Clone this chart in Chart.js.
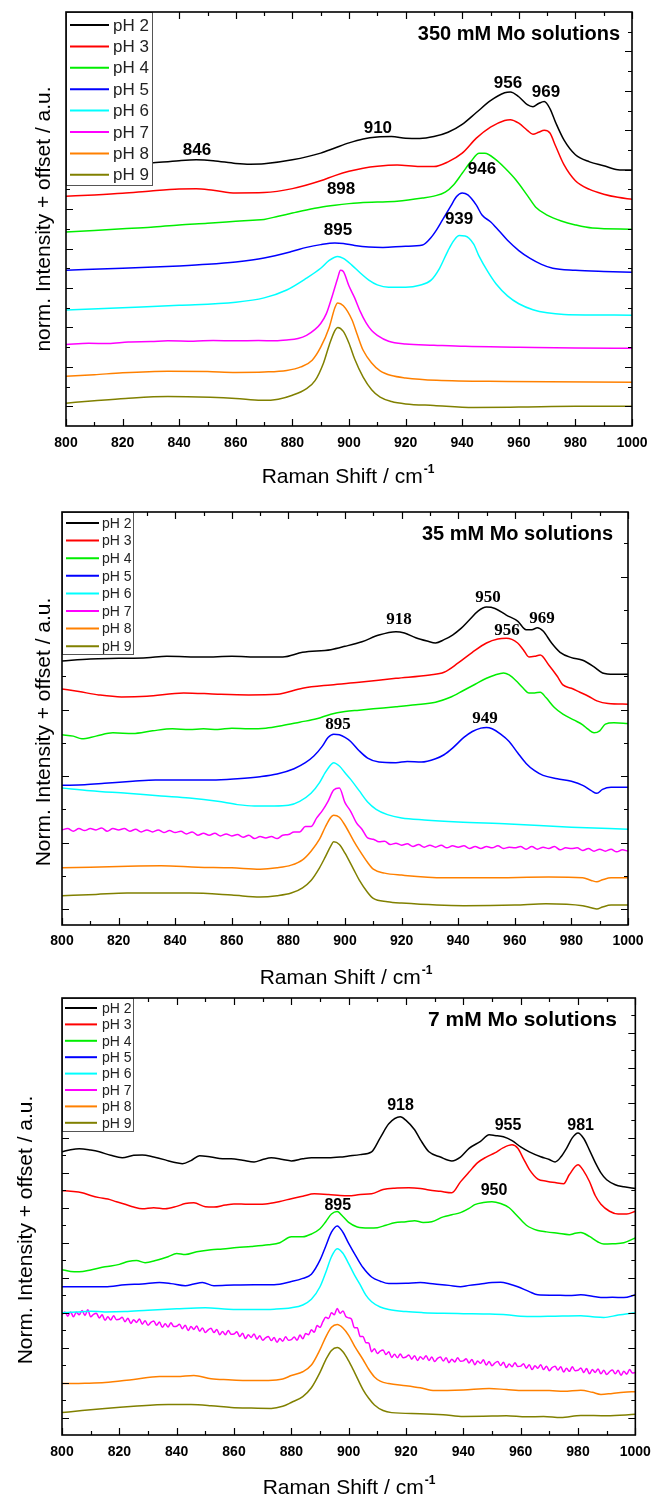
<!DOCTYPE html>
<html><head><meta charset="utf-8">
<script src="https://cdn.jsdelivr.net/npm/chart.js"></script>
<style>
html,body{margin:0;padding:0;background:#fff;}
body{width:660px;height:1496px;position:relative;overflow:hidden;}
canvas{position:absolute;left:0;}
</style></head><body>
<canvas id="c1" width="660" height="496" style="top:0px"></canvas>
<canvas id="c2" width="660" height="494" style="top:496px"></canvas>
<canvas id="c3" width="660" height="506" style="top:990px"></canvas>
<script>
// ---------- shared labels / ticks ----------
const phLabels = ['pH 2','pH 3','pH 4','pH 5','pH 6','pH 7','pH 8','pH 9'];
const xTickVals = [800,820,840,860,880,900,920,940,960,980,1000];
const xTitle = 'Raman Shift / cm';
const xTitleSup = '-1';

// ---------- Panel A : 350 mM ----------
const A_title = '350 mM Mo solutions';
const A_yTitle = 'norm. Intensity + offset / a.u.';
const A_yTicks = [0,1,2,3,4,5,6,7,8,9];
const A_pH2_x = [800,810,820,830,840,846,852,860,865,870,880,890,895,900,905,910,915,920,925,930,935,940,945,950,955,957,960,963,965,967,969,971,973,976,980,985,990,995,1000];
const A_pH2_y = [6.05,6.08,6.12,6.17,6.23,6.25,6.23,6.16,6.14,6.15,6.25,6.42,6.55,6.68,6.78,6.83,6.84,6.80,6.79,6.84,6.95,7.15,7.45,7.75,7.95,7.97,7.85,7.65,7.60,7.68,7.73,7.55,7.20,6.75,6.38,6.20,6.10,6.00,5.99];
const A_pH3_x = [800,810,820,830,840,846,852,860,870,880,890,895,900,905,910,917,925,930,935,940,945,950,955,957,960,963,965,967,969,971,973,976,980,985,990,995,1000];
const A_pH3_y = [5.33,5.36,5.40,5.46,5.51,5.52,5.48,5.41,5.42,5.52,5.72,5.85,5.96,6.04,6.09,6.12,6.08,6.08,6.20,6.42,6.80,7.08,7.25,7.27,7.18,7.00,6.90,6.95,7.00,6.93,6.60,6.12,5.72,5.50,5.38,5.30,5.25];
const A_pH4_x = [800,810,820,830,840,850,860,866,870,875,880,885,890,895,900,905,910,917,926,930,934,937,940,943,946,948,952,955,959,963,966,970,975,980,986,1000];
const A_pH4_y = [4.42,4.46,4.50,4.54,4.60,4.64,4.69,4.72,4.74,4.82,4.90,4.98,5.05,5.10,5.14,5.17,5.18,5.20,5.28,5.33,5.43,5.62,5.91,6.20,6.42,6.42,6.25,6.05,5.74,5.35,5.05,4.85,4.70,4.60,4.52,4.49];
const A_pH5_x = [800,820,840,850,860,870,880,885,890,895,898,902,907,912,920,926,929,931,933,936,938,940,942,945,947,950,953,956,960,964,968,972,980,990,1000];
const A_pH5_y = [3.45,3.50,3.56,3.60,3.66,3.76,3.93,4.03,4.10,4.14,4.13,4.08,4.04,4.03,4.06,4.09,4.28,4.48,4.72,5.08,5.32,5.41,5.36,5.10,4.85,4.68,4.45,4.21,3.95,3.75,3.60,3.50,3.45,3.42,3.40];
const A_pH6_x = [800,820,840,860,870,878,885,890,893,896,898,901,904,907,910,914,920,925,929,932,935,937,939,941,944,946,949,952,956,960,965,970,976,1000];
const A_pH6_y = [2.44,2.50,2.56,2.64,2.75,2.95,3.25,3.50,3.70,3.80,3.75,3.58,3.38,3.20,3.08,3.02,3.02,3.07,3.20,3.50,3.95,4.20,4.33,4.32,4.12,3.80,3.42,3.10,2.80,2.60,2.45,2.37,2.33,2.31];
const A_pH7_x = [800,808,815,822,830,836,845,852,860,868,874,878,882,885,888,890,892,894,896,897,898,900,902,904,906,908,910,914,920,930,941,960,980,1000];
const A_pH7_y = [1.57,1.60,1.59,1.63,1.64,1.66,1.65,1.67,1.66,1.67,1.66,1.68,1.72,1.80,1.95,2.10,2.35,2.78,3.25,3.45,3.42,3.05,2.75,2.40,2.12,1.92,1.80,1.65,1.58,1.55,1.52,1.50,1.48,1.47];
const A_pH8_x = [800,810,820,836,850,860,870,878,883,887,890,893,895,896,898,901,903,905,908,911,915,920,931,956,1000];
const A_pH8_y = [0.76,0.80,0.85,0.89,0.88,0.86,0.87,0.91,1.00,1.17,1.50,2.00,2.50,2.62,2.55,2.20,1.80,1.42,1.10,0.90,0.78,0.72,0.66,0.63,0.61];
const A_pH9_x = [800,810,821,836,851,860,869,875,880,885,888,891,893,895,896,898,900,902,905,908,911,915,920,930,944,960,980,1000];
const A_pH9_y = [0.08,0.14,0.20,0.25,0.23,0.20,0.15,0.18,0.28,0.45,0.65,1.10,1.55,1.92,2.00,1.90,1.60,1.20,0.74,0.42,0.23,0.12,0.06,0.02,-0.03,-0.02,0.00,0.00];
const A_peakText = ['846','910','956','969','898','946','895','939'];
const A_peakX = [846.3,910.2,956.2,969.6,897.2,947.0,896.1,938.9];
const A_peakY = [6.50,7.06,8.20,7.97,5.51,6.02,4.47,4.75];

// ---------- Panel B : 35 mM ----------
const B_title = '35 mM Mo solutions';
const B_yTitle = 'Norm. Intensity + offset / a.u.';
const B_yTicks = [0,1,2,3,4,5];
const B_pH2_x = [800,810,820,830,837,850,860,870,878,885,895,900,906,912,918,921,925,929,932,935,938,941,944,947,950,953,957,961,964,966,968,970,973,976,980,984,988,991,995,1000];
const B_pH2_y = [3.73,3.76,3.77,3.78,3.80,3.79,3.80,3.79,3.79,3.86,3.90,3.95,4.02,4.12,4.17,4.15,4.08,4.03,4.00,4.05,4.12,4.22,4.35,4.48,4.54,4.52,4.42,4.33,4.20,4.20,4.23,4.18,4.00,3.86,3.78,3.74,3.64,3.55,3.53,3.53];
const B_pH3_x = [800,806,813,821,830,843,855,866,876,885,895,905,918,930,935,940,945,950,954,957,961,963,965,967,969,972,975,977,980,983,986,989,993,1000];
const B_pH3_y = [3.31,3.27,3.22,3.19,3.20,3.25,3.23,3.22,3.23,3.32,3.37,3.41,3.47,3.52,3.56,3.70,3.86,4.00,4.06,4.07,4.00,3.90,3.79,3.80,3.82,3.67,3.50,3.37,3.32,3.26,3.20,3.13,3.09,3.08];
const B_pH4_x = [800,804,807,812,818,825,832,839,845,850,855,860,866,872,878,884,890,895,900,905,910,918,925,932,937,942,946,950,953,956,958,961,963,965,967,969,971,974,977,981,984,986,988,990,992,995,1000];
const B_pH4_y = [2.62,2.60,2.56,2.60,2.65,2.64,2.68,2.71,2.70,2.71,2.70,2.72,2.71,2.72,2.76,2.81,2.86,2.93,2.97,2.99,3.01,3.04,3.07,3.11,3.18,3.29,3.38,3.47,3.52,3.55,3.52,3.41,3.32,3.25,3.25,3.26,3.18,3.03,2.93,2.84,2.77,2.70,2.65,2.68,2.78,2.80,2.79];
const B_pH5_x = [800,808,815,825,833,845,853,862,870,876,882,886,889,892,894,896,898,900,902,905,908,912,918,922,927,932,935,938,942,945,948,950,952,955,958,961,964,967,970,975,980,984,987,989,991,994,1000];
const B_pH5_y = [1.86,1.87,1.89,1.92,1.94,1.94,1.94,1.96,1.99,2.03,2.11,2.20,2.30,2.45,2.58,2.63,2.62,2.58,2.52,2.38,2.27,2.21,2.20,2.22,2.21,2.26,2.32,2.42,2.58,2.67,2.72,2.73,2.71,2.63,2.52,2.35,2.19,2.08,2.01,1.96,1.92,1.86,1.78,1.74,1.80,1.83,1.83];
const B_pH6_x = [800,810,823,835,845,855,862,868,875,880,884,888,891,893,895,896,898,900,902,905,908,911,915,920,928,940,958,980,1000];
const B_pH6_y = [1.82,1.78,1.74,1.70,1.67,1.62,1.57,1.55,1.55,1.56,1.62,1.74,1.90,2.05,2.17,2.20,2.15,2.05,1.95,1.78,1.61,1.50,1.42,1.37,1.34,1.31,1.28,1.23,1.20];
// pH 7 (noisy) sampled every 2 cm-1 from 800 to 1000
const B_pH7_start = 800, B_pH7_step = 2;
const B_pH7_y = [1.19,1.21,1.17,1.21,1.18,1.21,1.19,1.22,1.17,1.21,
 1.19,1.21,1.17,1.20,1.16,1.19,1.16,1.19,1.15,1.18,
 1.15,1.17,1.13,1.16,1.11,1.14,1.11,1.14,1.10,1.13,
 1.10,1.12,1.08,1.11,1.06,1.09,1.07,1.09,1.06,1.11,
 1.12,1.16,1.16,1.24,1.24,1.37,1.48,1.62,1.79,1.82,
 1.60,1.47,1.30,1.20,1.07,1.05,1.01,1.02,0.97,0.99,
 0.96,0.98,0.94,0.97,0.93,0.96,0.93,0.96,0.92,0.95,
 0.93,0.95,0.91,0.94,0.91,0.94,0.92,0.95,0.91,0.93,
 0.92,0.94,0.90,0.94,0.90,0.93,0.91,0.94,0.89,0.92,
 0.91,0.92,0.88,0.91,0.87,0.90,0.87,0.90,0.86,0.89,
 0.87];
const B_pH8_x = [800,810,820,835,848,860,870,876,881,885,888,891,893,895,896,898,900,903,905,908,910,914,920,935,950,972,984,987,989,991,994,1000];
const B_pH8_y = [0.62,0.63,0.64,0.65,0.63,0.62,0.60,0.62,0.66,0.74,0.87,1.05,1.23,1.38,1.41,1.38,1.26,1.03,0.89,0.70,0.60,0.54,0.51,0.47,0.47,0.48,0.47,0.43,0.41,0.44,0.47,0.47];
const B_pH9_x = [800,812,823,845,860,870,876,881,885,888,891,893,895,896,898,900,903,905,908,910,915,920,942,960,971,984,987,989,991,994,1000];
const B_pH9_y = [0.20,0.22,0.24,0.24,0.21,0.18,0.20,0.24,0.32,0.43,0.62,0.78,0.95,1.01,0.97,0.84,0.60,0.44,0.25,0.16,0.11,0.09,0.05,0.06,0.08,0.05,0.02,0.00,0.03,0.06,0.06];
const B_peakText = ['918','950','969','956','949','895'];
const B_peakX = [919.1,950.5,969.6,957.2,949.5,897.5];
const B_peakY = [4.35,4.69,4.36,4.18,2.86,2.77];

// ---------- Panel C : 7 mM ----------
const C_title = '7 mM Mo solutions';
const C_yTitle = 'Norm. Intensity + offset / a.u.';
const C_yTicks = [0,1,2,3,4,5,6,7,8,9,10,11];
const C_pH2_x = [800,803,806,810,813,817,821,825,828,832,836,839,842,845,848,852,856,859,863,867,870,873,877,880,884,887,890,893,897,900,904,908,911,914,918,920,923,925,928,932,936,939,942,946,949,951,954,957,960,963,967,970,972,974,976,978,980,982,984,986,988,990,993,996,1000];
const C_pH2_y = [7.60,7.66,7.69,7.65,7.60,7.50,7.43,7.50,7.51,7.45,7.37,7.30,7.26,7.35,7.49,7.45,7.40,7.40,7.36,7.31,7.38,7.43,7.38,7.34,7.40,7.43,7.43,7.43,7.45,7.48,7.52,7.60,8.00,8.40,8.60,8.50,8.23,7.95,7.60,7.45,7.34,7.45,7.70,7.90,8.09,8.07,8.03,7.92,7.74,7.60,7.46,7.38,7.31,7.45,7.70,8.00,8.14,7.98,7.65,7.30,7.00,6.80,6.66,6.60,6.55];
const C_pH3_x = [800,803,807,810,813,816,819,822,825,828,832,836,840,843,846,850,853,857,860,865,871,876,880,884,888,893,897,900,904,908,912,916,921,925,928,932,936,939,942,945,948,951,954,957,959,961,963,966,969,972,975,977,980,982,984,986,988,991,994,997,1000];
const C_pH3_y = [6.49,6.47,6.43,6.35,6.29,6.25,6.17,6.10,6.02,5.97,6.00,5.97,6.04,6.12,6.14,6.03,6.02,6.08,6.11,6.10,6.11,6.18,6.26,6.33,6.40,6.38,6.35,6.34,6.38,6.40,6.52,6.56,6.57,6.55,6.51,6.47,6.43,6.74,7.02,7.29,7.45,7.57,7.72,7.80,7.70,7.40,7.10,6.82,6.76,6.72,6.69,6.95,7.23,7.05,6.75,6.35,6.10,5.90,5.82,5.82,5.90];
const C_pH4_x = [800,803,806,810,815,820,823,826,829,833,837,840,843,847,852,856,861,866,872,876,880,884,887,890,892,894,896,898,900,903,907,910,913,916,920,923,926,929,933,936,939,942,944,947,950,953,956,959,962,966,969,973,977,979,981,984,987,989,992,996,1000];
const C_pH4_y = [4.23,4.18,4.17,4.22,4.31,4.38,4.46,4.49,4.43,4.50,4.60,4.69,4.66,4.74,4.80,4.82,4.86,4.89,4.94,5.00,5.17,5.17,5.25,5.40,5.60,5.82,5.89,5.75,5.58,5.45,5.42,5.43,5.50,5.57,5.60,5.63,5.58,5.60,5.74,5.80,5.86,5.98,6.09,6.15,6.17,6.12,6.00,5.75,5.50,5.35,5.31,5.27,5.23,5.27,5.29,5.18,5.02,4.96,4.97,5.00,5.14];
const C_pH5_x = [800,808,815,822,828,834,838,843,846,849,853,860,867,874,880,884,887,890,892,894,896,898,900,903,905,908,911,914,920,925,930,935,939,942,946,950,953,956,959,963,966,971,977,981,985,988,992,996,1000];
const C_pH5_y = [3.74,3.74,3.74,3.80,3.82,3.86,3.83,3.77,3.82,3.86,3.77,3.79,3.80,3.80,3.89,3.98,4.10,4.50,4.90,5.30,5.48,5.30,4.98,4.55,4.29,4.02,3.90,3.83,3.84,3.86,3.82,3.78,3.74,3.78,3.82,3.86,3.87,3.82,3.74,3.60,3.51,3.50,3.49,3.51,3.47,3.43,3.44,3.43,3.51];
const C_pH6_x = [800,805,810,815,822,830,840,850,858,867,874,880,884,887,890,892,894,896,898,900,902,904,906,908,911,914,920,926,933,940,948,955,960,965,972,981,985,989,994,1000];
const C_pH6_y = [3.00,3.02,3.04,3.02,3.03,3.07,3.11,3.14,3.10,3.09,3.10,3.14,3.22,3.38,3.74,4.15,4.60,4.83,4.70,4.40,4.08,3.80,3.50,3.31,3.16,3.09,3.03,3.00,2.98,2.97,2.96,2.94,2.90,2.89,2.90,2.91,2.88,2.86,2.93,3.00];
// pH 7 (noisy) sampled every 1 cm-1 from 800 to 1000
const C_pH7_start = 800, C_pH7_step = 1;
const C_pH7_y = [2.94,3.02,2.90,3.02,2.88,3.01,2.94,3.06,2.92,3.08,
 2.88,2.95,2.98,2.85,2.94,2.78,2.88,2.79,2.91,2.80,
 2.81,2.87,2.74,2.84,2.69,2.80,2.72,2.82,2.67,2.77,
 2.64,2.72,2.76,2.64,2.73,2.58,2.68,2.59,2.71,2.60,
 2.61,2.67,2.54,2.64,2.49,2.60,2.52,2.62,2.47,2.56,
 2.43,2.51,2.55,2.43,2.52,2.37,2.46,2.37,2.49,2.38,
 2.39,2.45,2.32,2.41,2.26,2.37,2.29,2.39,2.24,2.34,
 2.21,2.28,2.32,2.20,2.29,2.15,2.26,2.18,2.31,2.21,
 2.23,2.30,2.21,2.36,2.25,2.40,2.37,2.51,2.44,2.63,
 2.58,2.74,2.87,2.83,3.00,2.94,3.12,2.98,3.05,2.89,
 2.85,2.81,2.57,2.57,2.32,2.32,2.14,2.13,1.88,1.97,
 1.83,1.90,1.93,1.80,1.88,1.72,1.81,1.71,1.82,1.71,
 1.73,1.79,1.67,1.77,1.63,1.74,1.67,1.77,1.63,1.73,
 1.60,1.69,1.73,1.62,1.71,1.57,1.67,1.59,1.71,1.61,
 1.62,1.68,1.56,1.66,1.51,1.62,1.55,1.65,1.50,1.60,
 1.48,1.56,1.60,1.49,1.58,1.43,1.53,1.45,1.57,1.46,
 1.47,1.54,1.41,1.51,1.37,1.48,1.41,1.51,1.37,1.47,
 1.34,1.43,1.47,1.36,1.45,1.30,1.41,1.32,1.45,1.34,
 1.35,1.42,1.29,1.40,1.25,1.37,1.29,1.39,1.25,1.35,
 1.23,1.31,1.36,1.25,1.35,1.21,1.32,1.24,1.37,1.27,
 1.29];
const C_pH8_x = [800,808,815,825,834,840,846,852,858,864,872,877,880,884,887,890,892,894,896,898,900,902,905,907,909,911,914,920,925,930,940,949,955,961,970,975,981,985,988,992,996,1000];
const C_pH8_y = [0.97,0.98,1.00,1.09,1.17,1.17,1.20,1.11,1.08,1.06,1.06,1.10,1.20,1.31,1.50,1.94,2.30,2.58,2.66,2.56,2.35,2.05,1.66,1.38,1.16,1.04,0.97,0.91,0.85,0.77,0.79,0.83,0.80,0.77,0.77,0.75,0.78,0.72,0.66,0.69,0.72,0.74];
const C_pH9_x = [800,807,815,825,837,845,852,859,866,873,877,880,884,887,890,892,894,896,898,900,902,905,907,909,912,915,925,933,940,950,955,962,968,974,981,990,1000];
const C_pH9_y = [0.14,0.20,0.26,0.32,0.37,0.37,0.34,0.29,0.27,0.26,0.32,0.43,0.60,0.85,1.29,1.65,1.92,2.00,1.88,1.62,1.30,0.80,0.55,0.36,0.20,0.14,0.11,0.08,0.03,0.04,0.05,0.02,0.03,0.00,0.06,0.05,0.09];
const C_peakText = ['918','955','981','950','895'];
const C_peakX = [918.1,955.6,980.9,950.7,896.2];
const C_peakY = [8.91,8.34,8.34,6.49,6.06];

// ---------- styles ----------
const SANS = "'Liberation Sans', Arial, Helvetica, sans-serif";
const SERIF = "'Liberation Serif', 'Times New Roman', serif";
const phColors = ['#000000','#ff0000','#00ee00','#0000ff','#00ffff','#ff00ff','#ff8000','#808000'];

function regular(ys, start, step) { return ys.map((v, i) => start + i * step); }

const decoPlugin = {
  id: 'deco',
  afterDatasetsDraw(chart) {
    const o = chart.options.plugins.deco;
    const {ctx, chartArea: a, scales: {x, y}} = chart;
    ctx.save();
    // ticks (inward, all four sides)
    ctx.strokeStyle = '#000';
    ctx.lineWidth = 1.2;
    ctx.beginPath();
    const xs = [];
    o.xTicks.forEach((v, i) => { xs.push([v, true]); if (i < o.xTicks.length - 1) xs.push([(v + o.xTicks[i + 1]) / 2, false]); });
    xs.forEach(([v, maj]) => {
      const p = Math.round(x.getPixelForValue(v)) + 0.5;
      const L = maj ? 7 : 4;
      ctx.moveTo(p, a.bottom); ctx.lineTo(p, a.bottom - L);
      ctx.moveTo(p, a.top); ctx.lineTo(p, a.top + L);
    });
    const ys = [];
    o.yTicks.forEach(v => { ys.push([v, true]); ys.push([v + 0.5, false]); });
    ys.push([o.yTicks[0] - 0.5, false]);
    ys.forEach(([v, maj]) => {
      if (v <= y.min + 1e-6 || v >= y.max - 1e-6) return;
      const p = Math.round(y.getPixelForValue(v)) + 0.5;
      const L = maj ? 7 : 4;
      ctx.moveTo(a.left, p); ctx.lineTo(a.left + L, p);
      ctx.moveTo(a.right, p); ctx.lineTo(a.right - L, p);
    });
    ctx.stroke();

    // legend box
    const lg = o.legend;
    const lx = a.left, ly = a.top;
    ctx.fillStyle = '#fff';
    ctx.fillRect(lx, ly, lg.w, lg.h);
    ctx.strokeStyle = '#555';
    ctx.lineWidth = 1;
    ctx.strokeRect(lx + 0.5, ly + 0.5, lg.w, lg.h);
    chart.data.datasets.forEach((ds, i) => {
      const ry = ly + lg.row0 + i * lg.step;
      ctx.strokeStyle = ds.borderColor;
      ctx.lineWidth = 2;
      ctx.beginPath(); ctx.moveTo(lx + lg.l0, ry); ctx.lineTo(lx + lg.l1, ry); ctx.stroke();
      ctx.fillStyle = '#222';
      ctx.font = lg.font;
      ctx.textAlign = 'left';
      ctx.textBaseline = 'middle';
      ctx.fillText(ds.label, lx + lg.tx, ry + 1);
    });

    // frame
    ctx.strokeStyle = '#000';
    ctx.lineWidth = 1.6;
    ctx.strokeRect(a.left, a.top, a.right - a.left, a.bottom - a.top);

    // peak labels
    ctx.fillStyle = '#000';
    ctx.font = o.peakFont;
    ctx.textAlign = 'center';
    ctx.textBaseline = 'middle';
    o.peakText.forEach((t, i) => {
      ctx.fillText(t, x.getPixelForValue(o.peakX[i]), y.getPixelForValue(o.peakY[i]));
    });

    // inset title
    ctx.font = o.titleFont;
    ctx.textAlign = 'right';
    ctx.fillText(o.title, o.titleRight, o.titleY);

    // x axis title with superscript
    ctx.font = '21px ' + SANS;
    const w1 = ctx.measureText(xTitle).width;
    ctx.font = 'bold 12px ' + SANS;
    const w2 = ctx.measureText(xTitleSup).width;
    const x0 = o.xTitleX - (w1 + w2 + 1) / 2;
    const base = o.xTitleY + 7.4;
    ctx.textAlign = 'left';
    ctx.textBaseline = 'alphabetic';
    ctx.font = '21px ' + SANS;
    ctx.fillText(xTitle, x0, base);
    ctx.font = 'bold 12px ' + SANS;
    ctx.fillText(xTitleSup, x0 + w1 + 1, base - 10);

    // y axis title (rotated)
    ctx.save();
    ctx.translate(o.yTitleBase, o.yTitleY);
    ctx.rotate(-Math.PI / 2);
    ctx.font = '21px ' + SANS;
    ctx.textAlign = 'center';
    ctx.textBaseline = 'alphabetic';
    ctx.fillText(o.yTitle, 0, 0);
    ctx.restore();

    ctx.restore();
  }
};

function makeChart(id, p) {
  const datasets = p.series.map((s, i) => ({
    label: phLabels[i],
    data: s.x.map((xv, k) => ({x: xv, y: s.y[k]})),
    borderColor: phColors[i],
    borderWidth: 1.5,
    pointRadius: 0,
    fill: false,
    cubicInterpolationMode: 'monotone'
  }));
  return new Chart(document.getElementById(id), {
    type: 'line',
    data: {datasets},
    options: {
      responsive: false,
      animation: false,
      devicePixelRatio: 1,
      layout: {padding: {top: p.padTop, right: p.padRight, bottom: 0, left: 0}},
      plugins: {
        legend: {display: false},
        tooltip: {enabled: false},
        deco: p.deco
      },
      scales: {
        x: {
          type: 'linear', min: 800, max: 1000,
          afterFit: s => { s.height = p.xAxisH; },
          afterBuildTicks: s => { s.ticks = xTickVals.map(v => ({value: v})); },
          ticks: {
            callback: v => String(v),
            font: {family: SANS, size: 14, weight: 'bold'},
            color: '#000', padding: p.tickPad,
            maxRotation: 0, minRotation: 0, autoSkip: false
          },
          grid: {display: false, drawTicks: false},
          border: {display: false}
        },
        y: {
          type: 'linear', min: p.yMin, max: p.yMax,
          afterFit: s => { s.width = p.yAxisW; },
          ticks: {display: false},
          grid: {display: false, drawTicks: false},
          border: {display: false}
        }
      }
    },
    plugins: [decoPlugin]
  });
}

// Panel A
makeChart('c1', {
  series: [
    {x: A_pH2_x, y: A_pH2_y}, {x: A_pH3_x, y: A_pH3_y}, {x: A_pH4_x, y: A_pH4_y}, {x: A_pH5_x, y: A_pH5_y},
    {x: A_pH6_x, y: A_pH6_y}, {x: A_pH7_x, y: A_pH7_y}, {x: A_pH8_x, y: A_pH8_y}, {x: A_pH9_x, y: A_pH9_y}
  ],
  padTop: 12, padRight: 28, yAxisW: 66, xAxisH: 70, tickPad: 8.6,
  yMin: -0.5, yMax: 10,
  deco: {
    xTicks: xTickVals, yTicks: A_yTicks,
    legend: {w: 86, h: 173, row0: 13, step: 21.4, l0: 4, l1: 43, tx: 47, font: '17px ' + SANS},
    peakText: A_peakText, peakX: A_peakX, peakY: A_peakY, peakFont: 'bold 17px ' + SANS,
    title: A_title, titleFont: 'bold 20px ' + SANS, titleRight: 620, titleY: 34,
    xTitleX: 348, xTitleY: 475.5,
    yTitle: A_yTitle, yTitleBase: 50, yTitleY: 219
  }
});

// Panel B
makeChart('c2', {
  series: [
    {x: B_pH2_x, y: B_pH2_y}, {x: B_pH3_x, y: B_pH3_y}, {x: B_pH4_x, y: B_pH4_y}, {x: B_pH5_x, y: B_pH5_y},
    {x: B_pH6_x, y: B_pH6_y}, {x: regular(B_pH7_y, B_pH7_start, B_pH7_step), y: B_pH7_y},
    {x: B_pH8_x, y: B_pH8_y}, {x: B_pH9_x, y: B_pH9_y}
  ],
  padTop: 16, padRight: 32, yAxisW: 62, xAxisH: 65, tickPad: 8.1,
  yMin: -0.24, yMax: 5.97,
  deco: {
    xTicks: xTickVals, yTicks: B_yTicks,
    legend: {w: 71, h: 142, row0: 11, step: 17.6, l0: 4, l1: 37, tx: 40, font: '14px ' + SANS},
    peakText: B_peakText, peakX: B_peakX, peakY: B_peakY, peakFont: 'bold 17px ' + SERIF,
    title: B_title, titleFont: 'bold 20px ' + SANS, titleRight: 613, titleY: 38,
    xTitleX: 346, xTitleY: 481,
    yTitle: B_yTitle, yTitleBase: 50, yTitleY: 236
  }
});

// Panel C
makeChart('c3', {
  series: [
    {x: C_pH2_x, y: C_pH2_y}, {x: C_pH3_x, y: C_pH3_y}, {x: C_pH4_x, y: C_pH4_y}, {x: C_pH5_x, y: C_pH5_y},
    {x: C_pH6_x, y: C_pH6_y}, {x: regular(C_pH7_y, C_pH7_start, C_pH7_step), y: C_pH7_y},
    {x: C_pH8_x, y: C_pH8_y}, {x: C_pH9_x, y: C_pH9_y}
  ],
  padTop: 8, padRight: 22, yAxisW: 62, xAxisH: 61, tickPad: 9.1,
  yMin: -0.5, yMax: 12,
  deco: {
    xTicks: xTickVals, yTicks: C_yTicks,
    legend: {w: 71, h: 133, row0: 10, step: 16.4, l0: 3, l1: 35, tx: 40, font: '14px ' + SANS},
    peakText: C_peakText, peakX: C_peakX, peakY: C_peakY, peakFont: 'bold 16px ' + SANS,
    title: C_title, titleFont: 'bold 21px ' + SANS, titleRight: 617, titleY: 30,
    xTitleX: 349, xTitleY: 496.5,
    yTitle: C_yTitle, yTitleBase: 32, yTitleY: 240
  }
});
</script>
</body></html>
